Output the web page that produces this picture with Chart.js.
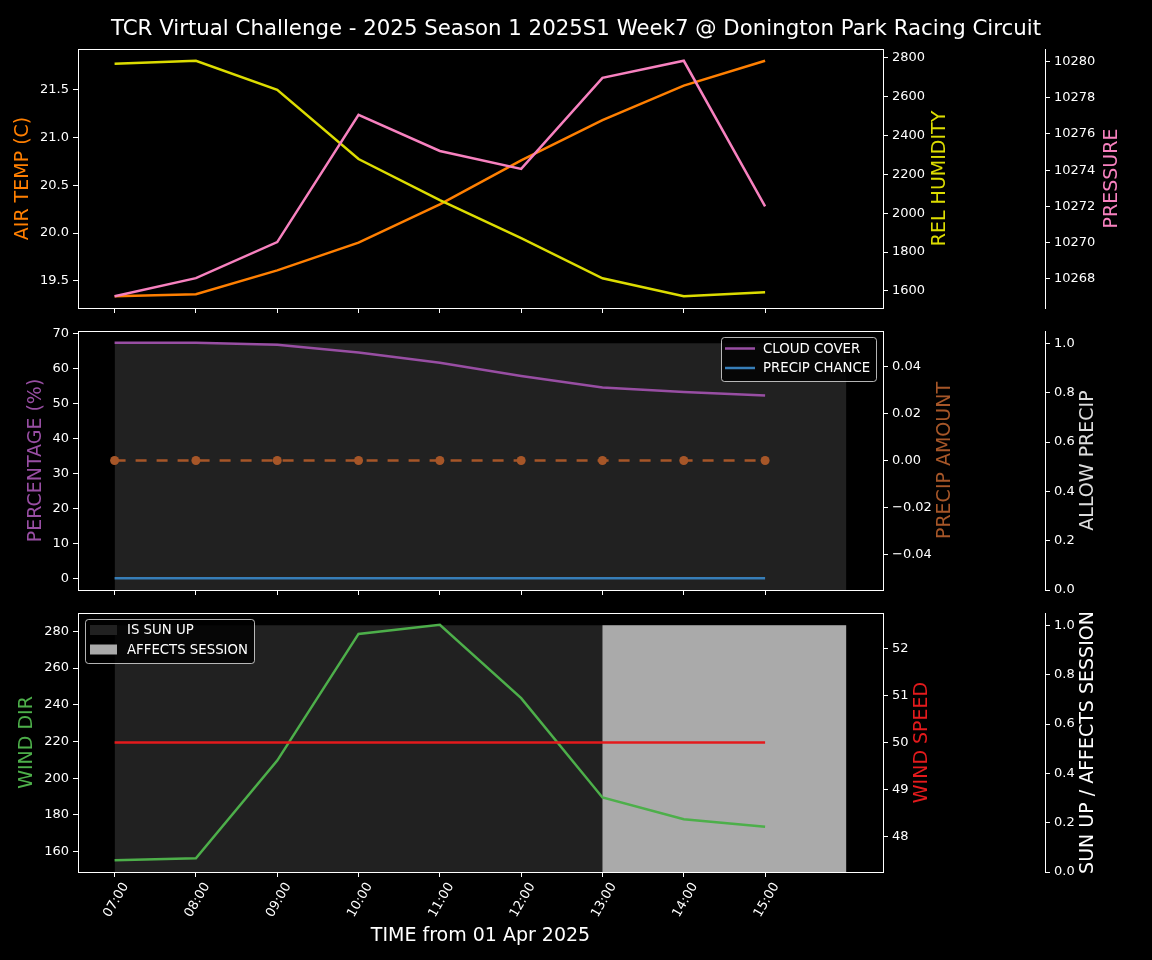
<!DOCTYPE html>
<html>
<head>
<meta charset="utf-8">
<script src="https://cdn.jsdelivr.net/npm/chart.js@4.4.1/dist/chart.umd.min.js"></script>
<style>
  body { margin: 0; background: #000; }
  #wrap { position: relative; width: 1152px; height: 960px; background: #000; overflow: hidden; }
  canvas { position: absolute; left: 0; }
</style>
</head>
<body>
<div id="wrap">
  <canvas id="c1" width="1152" height="330" style="top:0px"></canvas>
  <canvas id="c2" width="1152" height="300" style="top:310px"></canvas>
  <canvas id="c3" width="1152" height="370" style="top:590px"></canvas>
</div>
<script>
var TIMES = ['07:00', '08:00', '09:00', '10:00', '11:00', '12:00', '13:00', '14:00', '15:00'];
var AIR_TEMP = [19.34, 19.36, 19.61, 19.90, 20.30, 20.76, 21.18, 21.54, 21.80];
var REL_HUMIDITY = [2768, 2783, 2634, 2278, 2067, 1871, 1665, 1573, 1593];
var PRESSURE = [10267.04, 10268.04, 10270.03, 10277.05, 10275.06, 10274.07, 10279.10, 10280.04, 10272.00];
var CLOUD_COVER = [67.3, 67.3, 66.7, 64.5, 61.6, 57.8, 54.5, 53.2, 52.2];
var PRECIP_CHANCE = [0, 0, 0, 0, 0, 0, 0, 0, 0];
var PRECIP_AMOUNT = [0, 0, 0, 0, 0, 0, 0, 0, 0];
var ALLOW_PRECIP = [1, 1, 1, 1, 1, 1, 1, 1, 1];
var WIND_DIR = [155.3, 156.4, 209.6, 278.6, 283.6, 243.6, 189.5, 177.6, 173.6];
var WIND_SPEED = [50, 50, 50, 50, 50, 50, 50, 50, 50];
var IS_SUN_UP = [1, 1, 1, 1, 1, 1, 1, 1, 1];
var AFFECTS_SESSION = [0, 0, 0, 0, 0, 0, 1, 1, 1];

var TEMP_TICKS = [19.5, 20.0, 20.5, 21.0, 21.5];
var HUMIDITY_TICKS = [1600, 1800, 2000, 2200, 2400, 2600, 2800];
var PRESSURE_TICKS = [10268, 10270, 10272, 10274, 10276, 10278, 10280];
var PERCENT_TICKS = [0, 10, 20, 30, 40, 50, 60, 70];
var PRECIP_AMOUNT_TICKS = [-0.04, -0.02, 0.00, 0.02, 0.04];
var UNIT_TICKS = [0.0, 0.2, 0.4, 0.6, 0.8, 1.0];
var WIND_DIR_TICKS = [160, 180, 200, 220, 240, 260, 280];
var WIND_SPEED_TICKS = [48, 49, 50, 51, 52];

var TITLE = 'TCR Virtual Challenge - 2025 Season 1 2025S1 Week7 @ Donington Park Racing Circuit';
var X_TITLE = 'TIME from 01 Apr 2025';

// hours after the first time slot
var HOURS = TIMES.map(function (t) { return parseInt(t, 10) - parseInt(TIMES[0], 10); });
var BAR_END = HOURS[HOURS.length - 1] + 1;

Chart.defaults.font.family = 'DejaVu Sans';
Chart.defaults.font.size = 13;
Chart.defaults.color = '#ffffff';

function pts(values) {
  return values.map(function (v, i) { return { x: HOURS[i], y: v }; });
}
// bars of one hour width, drawn as a stepped fill
function barPts(values) {
  var p = pts(values);
  p.push({ x: BAR_END, y: values[values.length - 1] });
  return p;
}
// matplotlib style auto limits (5% margins)
function limits(arrays, stickyZero) {
  var all = [].concat.apply([], arrays);
  var lo = Math.min.apply(null, all), hi = Math.max.apply(null, all);
  if (lo === hi) {
    var d = lo === 0 ? 0.05 : Math.abs(lo) * 0.05;
    lo -= d; hi += d;
  }
  var m = (hi - lo) * 0.05;
  return [stickyZero && lo === 0 ? 0 : lo - m, hi + m];
}

var xLim = limits([HOURS, [BAR_END]]);

function xScale(height, showLabels) {
  return {
    type: 'linear', position: 'bottom', min: xLim[0], max: xLim[1],
    afterFit: function (s) { s.height = height; },
    afterBuildTicks: function (s) { s.ticks = HOURS.map(function (v) { return { value: v }; }); },
    grid: { display: true, drawOnChartArea: false, drawTicks: true, tickLength: 5, color: '#ffffff' },
    border: { display: true, color: '#ffffff' },
    ticks: {
      display: showLabels, autoSkip: false, minRotation: 60, maxRotation: 60,
      labelOffset: 11, padding: 3, color: '#ffffff', font: { size: 13 },
      callback: function (v) { return TIMES[HOURS.indexOf(v)]; }
    }
  };
}

function yScale(position, weight, width, lim, ticks, fmt) {
  return {
    type: 'linear', position: position, weight: weight, min: lim[0], max: lim[1],
    afterFit: function (s) { s.width = width; },
    afterBuildTicks: function (s) { s.ticks = ticks.map(function (v) { return { value: v }; }); },
    grid: { display: true, drawOnChartArea: false, drawTicks: true, tickLength: 5, color: '#ffffff' },
    border: { display: true, color: '#ffffff' },
    ticks: { autoSkip: false, padding: 4, color: '#ffffff', font: { size: 13 }, callback: fmt }
  };
}

function fixed(n) {
  return function (v) { return (v < 0 ? '\u2212' : '') + Math.abs(v).toFixed(n); };
}

function line(label, values, color, axis, order) {
  return {
    label: label, data: pts(values), yAxisID: axis, borderColor: color, backgroundColor: color,
    borderWidth: 2.5, pointRadius: 0, tension: 0, fill: false, order: order
  };
}

function fillBar(label, values, color, axis, order) {
  return {
    label: label, data: barPts(values), yAxisID: axis, stepped: 'before',
    borderWidth: 0, borderColor: color, backgroundColor: color, pointRadius: 0,
    fill: 'origin', order: order
  };
}

// axis titles, frame, figure title and legends drawn on top of each panel
function decor(opts) {
  return {
    id: 'decor',
    afterDraw: function (chart) {
      var ctx = chart.ctx, a = chart.chartArea;
      ctx.save();
      ctx.strokeStyle = '#ffffff';
      ctx.lineWidth = 1;
      ctx.strokeRect(Math.round(a.left) + 0.5, Math.round(a.top) + 0.5, Math.round(a.right - a.left), Math.round(a.bottom - a.top));

      ctx.font = '19px "DejaVu Sans"';
      ctx.textAlign = 'center';
      ctx.textBaseline = 'middle';
      (opts.axisTitles || []).forEach(function (t) {
        ctx.save();
        ctx.translate(t.x, (a.top + a.bottom) / 2);
        ctx.rotate(-Math.PI / 2);
        ctx.fillStyle = t.color;
        ctx.fillText(t.text, 0, 0);
        ctx.restore();
      });

      if (opts.title) {
        ctx.font = '21.3px "DejaVu Sans"';
        ctx.textBaseline = 'alphabetic';
        ctx.fillStyle = '#ffffff';
        ctx.fillText(opts.title.text, opts.title.x, opts.title.y);
      }

      if (opts.legend) {
        var L = opts.legend;
        ctx.beginPath();
        if (ctx.roundRect) ctx.roundRect(L.x + 0.5, L.y + 0.5, L.w, L.h, 3);
        else ctx.rect(L.x + 0.5, L.y + 0.5, L.w, L.h);
        ctx.fillStyle = 'rgba(0,0,0,0.8)';
        ctx.fill();
        ctx.strokeStyle = 'rgba(255,255,255,0.7)';
        ctx.stroke();
        ctx.font = '13.3px "DejaVu Sans"';
        ctx.textAlign = 'left';
        ctx.textBaseline = 'middle';
        L.items.forEach(function (it, i) {
          var cy = L.y + L.firstRow + i * L.rowGap;
          if (it.patch) {
            ctx.fillStyle = it.color;
            ctx.fillRect(L.x + 5, cy - 5, 27, 10);
          } else {
            ctx.strokeStyle = it.color;
            ctx.lineWidth = 2.5;
            ctx.beginPath();
            ctx.moveTo(L.x + 4, cy);
            ctx.lineTo(L.x + 34, cy);
            ctx.stroke();
          }
          ctx.fillStyle = '#ffffff';
          ctx.fillText(it.text, L.x + L.textX, cy + 1);
        });
      }

      if (opts.xTitle) {
        ctx.font = '19px "DejaVu Sans"';
        ctx.textAlign = 'center';
        ctx.textBaseline = 'alphabetic';
        ctx.fillStyle = '#ffffff';
        ctx.fillText(opts.xTitle, (a.left + a.right) / 2, opts.xTitleY);
      }
      ctx.restore();
    }
  };
}

function baseOptions(top, scales) {
  return {
    responsive: false, animation: false, devicePixelRatio: 1,
    layout: { padding: { top: top, left: 0, right: 0, bottom: 0 }, autoPadding: false },
    plugins: { legend: { display: false }, tooltip: { enabled: false } },
    scales: scales
  };
}

var ORANGE = '#ff7f00', YELLOW = '#dcdc00', PINK = '#f781bf', PURPLE = '#984ea3',
    BLUE = '#377eb8', BROWN = '#a65628', GREEN = '#4daf4a', RED = '#e41a1c';

// panel 1: temperature, humidity, pressure
new Chart(document.getElementById('c1'), {
  type: 'line',
  data: {
    datasets: [
      line('PRESSURE', PRESSURE, PINK, 'y2', 1),
      line('REL HUMIDITY', REL_HUMIDITY, YELLOW, 'y1', 2),
      line('AIR TEMP (C)', AIR_TEMP, ORANGE, 'y', 3)
    ]
  },
  options: baseOptions(49, {
    x: xScale(22, false),
    y: yScale('left', 0, 78, limits([AIR_TEMP]), TEMP_TICKS, fixed(1)),
    y1: yScale('right', 0, 162, limits([REL_HUMIDITY]), HUMIDITY_TICKS, fixed(0)),
    y2: yScale('right', 1, 107, limits([PRESSURE]), PRESSURE_TICKS, fixed(0))
  }),
  plugins: [decor({
    title: { text: TITLE, x: 576, y: 35 },
    axisTitles: [
      { text: 'AIR TEMP (C)', x: 23, color: ORANGE },
      { text: 'REL HUMIDITY', x: 940, color: YELLOW },
      { text: 'PRESSURE', x: 1112, color: PINK }
    ]
  })]
});

// panel 2: cloud cover, precipitation
var precipAmount = line('PRECIP AMOUNT', PRECIP_AMOUNT, BROWN, 'y1', 1);
precipAmount.borderDash = [11, 10];
precipAmount.pointRadius = 4.5;
precipAmount.pointBorderWidth = 0;

new Chart(document.getElementById('c2'), {
  type: 'line',
  data: {
    datasets: [
      precipAmount,
      line('CLOUD COVER', CLOUD_COVER, PURPLE, 'y', 2),
      line('PRECIP CHANCE', PRECIP_CHANCE, BLUE, 'y', 3),
      fillBar('ALLOW PRECIP', ALLOW_PRECIP, '#212121', 'y2', 10)
    ]
  },
  options: baseOptions(21, {
    x: xScale(20, false),
    y: yScale('left', 0, 78, limits([CLOUD_COVER, PRECIP_CHANCE]), PERCENT_TICKS, fixed(0)),
    y1: yScale('right', 0, 162, limits([PRECIP_AMOUNT]), PRECIP_AMOUNT_TICKS, fixed(2)),
    y2: yScale('right', 1, 107, limits([ALLOW_PRECIP, [0]], true), UNIT_TICKS, fixed(1))
  }),
  plugins: [decor({
    axisTitles: [
      { text: 'PERCENTAGE (%)', x: 36, color: PURPLE },
      { text: 'PRECIP AMOUNT', x: 945, color: BROWN },
      { text: 'ALLOW PRECIP', x: 1088, color: '#dddddd' }
    ],
    legend: {
      x: 721, y: 27, w: 155, h: 44, firstRow: 11.5, rowGap: 19.5, textX: 42,
      items: [
        { text: 'CLOUD COVER', color: PURPLE },
        { text: 'PRECIP CHANCE', color: BLUE }
      ]
    }
  })]
});

// panel 3: wind, sun up / affects session
new Chart(document.getElementById('c3'), {
  type: 'line',
  data: {
    datasets: [
      line('WIND SPEED', WIND_SPEED, RED, 'y1', 1),
      line('WIND DIR', WIND_DIR, GREEN, 'y', 2),
      fillBar('AFFECTS SESSION', AFFECTS_SESSION, '#aaaaaa', 'y2', 9),
      fillBar('IS SUN UP', IS_SUN_UP, '#212121', 'y2', 10)
    ]
  },
  options: baseOptions(23, {
    x: xScale(88, true),
    y: yScale('left', 0, 78, limits([WIND_DIR]), WIND_DIR_TICKS, fixed(0)),
    y1: yScale('right', 0, 162, limits([WIND_SPEED]), WIND_SPEED_TICKS, fixed(0)),
    y2: yScale('right', 1, 107, limits([IS_SUN_UP, AFFECTS_SESSION], true), UNIT_TICKS, fixed(1))
  }),
  plugins: [decor({
    axisTitles: [
      { text: 'WIND DIR', x: 27, color: GREEN },
      { text: 'WIND SPEED', x: 922, color: RED },
      { text: 'SUN UP / AFFECTS SESSION', x: 1088, color: '#ffffff' }
    ],
    legend: {
      x: 85, y: 29, w: 169, h: 44, firstRow: 11, rowGap: 19.5, textX: 42,
      items: [
        { text: 'IS SUN UP', color: '#212121', patch: true },
        { text: 'AFFECTS SESSION', color: '#aaaaaa', patch: true }
      ]
    },
    xTitle: X_TITLE, xTitleY: 351
  })]
});
</script>
</body>
</html>
